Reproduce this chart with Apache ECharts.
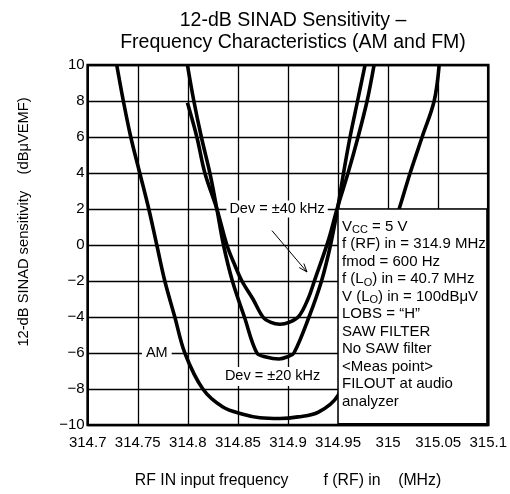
<!DOCTYPE html>
<html><head><meta charset="utf-8">
<script src="https://cdn.jsdelivr.net/npm/echarts@6/dist/echarts.min.js"></script>
<style>html,body{margin:0;padding:0;background:#fff}#c{width:510px;height:494px}</style>
</head><body><div id="c"></div>
<script>
// ---- data ----
const xTickLabels = ['314.7','314.75','314.8','314.85','314.9','314.95','315','315.05','315.1'];
const yTickLabels = ['\u221210','\u22128','\u22126','\u22124','\u22122','0','2','4','6','8','10'];

const amFreq = [314.729,314.7356,314.743,314.752,314.761,314.769,314.777,314.787,314.797,314.815,314.835,314.855,314.872,314.892,314.91,314.93,314.95,314.965,314.98,314.995,315.011,315.022,315.034,315.046,315.051];
const amVal  = [10,8,6,4,2,0,-2,-4,-6,-8,-9,-9.4,-9.6,-9.64,-9.55,-9.3,-8.35,-6,-3.3,-0.7,2,4,6,8,10];

const dev20Freq = [314.7996,314.806,314.8135,314.822,314.829,314.8356,314.8445,314.8565,314.869,314.878,314.891,314.9,314.906,314.921,314.9335,314.9425,314.9495,314.9555,314.962,314.9695,314.977];
const dev20Val  = [10,8,6,4,2,0,-2,-4,-6,-6.22,-6.33,-6.2,-6,-4,-2,0,2,4,6,8,10];

const dev40Freq = [314.7996,314.809,314.817,314.829,314.839,314.846,314.854,314.865,314.875,314.883,314.892,314.901,314.911,314.92,314.927,314.94,314.949,314.96,314.97,314.979,314.986];
const dev40Val  = [7.9,6,4,2,0,-1,-2,-3,-4,-4.3,-4.4,-4.3,-3.95,-3,-1.9,0.2,2,4,6,8,10];

const infoLines = [
  '{n|V}{s|CC}{n| = 5 V}',
  '{n|f (RF) in = 314.9 MHz}',
  '{n|fmod = 600 Hz}',
  '{n|f (L}{b|O}{n|) in = 40.7 MHz}',
  '{n|V (L}{b|O}{n|) in = 100dB\u03bcV}',
  '{n|LOBS = \u201cH\u201d}',
  '{n|SAW FILTER}',
  '{n|No SAW filter}',
  '{n|<Meas point>}',
  '{n|FILOUT at audio}',
  '{n|analyzer}'
];

const xMin = 314.7, xMax = 315.1, xStep = 0.05;
const yMin = -10, yMax = 10, yStep = 2;

function pairs(f, v){ return f.map((x,i)=>[x, v[i]]); }

const chart = echarts.init(document.getElementById('c'), null, {renderer:'canvas'});
const font = 'Liberation Sans, Arial, Helvetica, sans-serif';
const lineStyle = {color:'#000', width:3.6};

chart.setOption({
  animation:false,
  backgroundColor:'#fff',
  title:{
    text:'12-dB SINAD Sensitivity \u2013\nFrequency Characteristics (AM and FM)',
    left:288, top:5, textAlign:'center',
    textStyle:{fontFamily:font, fontSize:19.5, fontWeight:'normal', color:'#000', lineHeight:22}
  },
  grid:{left:87.7, right:21.5, top:65, bottom:68, show:true, borderColor:'#000', borderWidth:2.6, backgroundColor:'transparent'},
  xAxis:{
    type:'value', min:xMin, max:xMax, interval:xStep,
    axisLine:{show:false}, axisTick:{show:false},
    splitLine:{show:true, lineStyle:{color:'#000', width:1.3}},
    axisLabel:{fontFamily:font, fontSize:15, color:'#000', margin:10,
      formatter:v=>xTickLabels[Math.round((v-xMin)/xStep)]},
    name:'RF IN input frequency        f (RF) in    (MHz)', nameLocation:'middle', nameGap:48,
    nameTextStyle:{fontFamily:font, fontSize:15.8, color:'#000'}
  },
  yAxis:{
    type:'value', min:yMin, max:yMax, interval:yStep,
    axisLine:{show:false}, axisTick:{show:false},
    splitLine:{show:true, lineStyle:{color:'#000', width:1.3}},
    axisLabel:{fontFamily:font, fontSize:15, color:'#000', margin:3,
      formatter:v=>yTickLabels[Math.round((v-yMin)/yStep)]},
    name:'12-dB SINAD sensitivity    (dB\u03bcVEMF)', nameLocation:'middle', nameGap:56,
    nameTextStyle:{fontFamily:font, fontSize:14.7, color:'#000', padding:[0,0,0,46]}
  },
  series:[
    {type:'line', name:'AM', data:pairs(amFreq, amVal), smooth:0.35, showSymbol:false, lineStyle, z:3},
    {type:'line', name:'Dev = \u00b120 kHz', data:pairs(dev20Freq, dev20Val), smooth:0.35, showSymbol:false, lineStyle, z:3},
    {type:'line', name:'Dev = \u00b140 kHz', data:pairs(dev40Freq, dev40Val), smooth:0.35, showSymbol:false, lineStyle, z:3}
  ]
});

// annotations placed from data coordinates
function px(x, y){ return chart.convertToPixel({gridIndex:0}, [x, y]); }
const boxTL = px(314.95, 2), boxBR = px(315.1, -10);
const lbl40 = px(314.8385, 2), lblAM = px(314.769, -6), lbl20 = px(314.834, -7.3);
const arA = px(314.884, 0.8), arB = px(314.919, -1.5);
const ang = Math.atan2(arB[1]-arA[1], arB[0]-arA[0]);
const hl = 9, ha = 0.35;
const head = [
  [arB[0]-hl*Math.cos(ang-ha), arB[1]-hl*Math.sin(ang-ha)],
  [arB[0], arB[1]],
  [arB[0]-hl*Math.cos(ang+ha), arB[1]-hl*Math.sin(ang+ha)]
];
const annFont = '14.5px ' + font;
chart.setOption({
  graphic:[
    {type:'rect', z:100, shape:{x:boxTL[0], y:boxTL[1], width:boxBR[0]-boxTL[0]-1.3, height:boxBR[1]-boxTL[1]-1.3},
      style:{fill:'#fff', stroke:'#000', lineWidth:1.5}},
    {type:'text', z:101, x:boxTL[0]+4, y:boxTL[1]+9,
      style:{text:infoLines.join('\n'), fill:'#000',
        rich:{
          n:{fontFamily:font, fontSize:15, lineHeight:17.5, fill:'#000'},
          s:{fontFamily:font, fontSize:11, lineHeight:17.5, fill:'#000', verticalAlign:'bottom'},
          b:{fontFamily:font, fontSize:11, lineHeight:13, fill:'#000', verticalAlign:'bottom'}
        }}},
    {type:'text', z:101, x:lbl40[0], y:lbl40[1],
      style:{text:'Dev = \u00b140 kHz', font:annFont, fill:'#000', align:'left', verticalAlign:'middle', backgroundColor:'#fff', padding:[1,3,1,3]}},
    {type:'text', z:101, x:lblAM[0], y:lblAM[1],
      style:{text:'AM', font:annFont, fill:'#000', align:'center', verticalAlign:'middle', backgroundColor:'#fff', padding:[1,4,1,4]}},
    {type:'text', z:101, x:lbl20[0], y:lbl20[1],
      style:{text:'Dev = \u00b120 kHz', font:annFont, fill:'#000', align:'left', verticalAlign:'middle', backgroundColor:'#fff', padding:[2,3,2,3]}},
    {type:'line', z:101, shape:{x1:arA[0], y1:arA[1], x2:arB[0], y2:arB[1]}, style:{stroke:'#000', lineWidth:1}},
    {type:'polyline', z:101, shape:{points:head}, style:{stroke:'#000', lineWidth:1, fill:null}}
  ]
});
</script></body></html>
